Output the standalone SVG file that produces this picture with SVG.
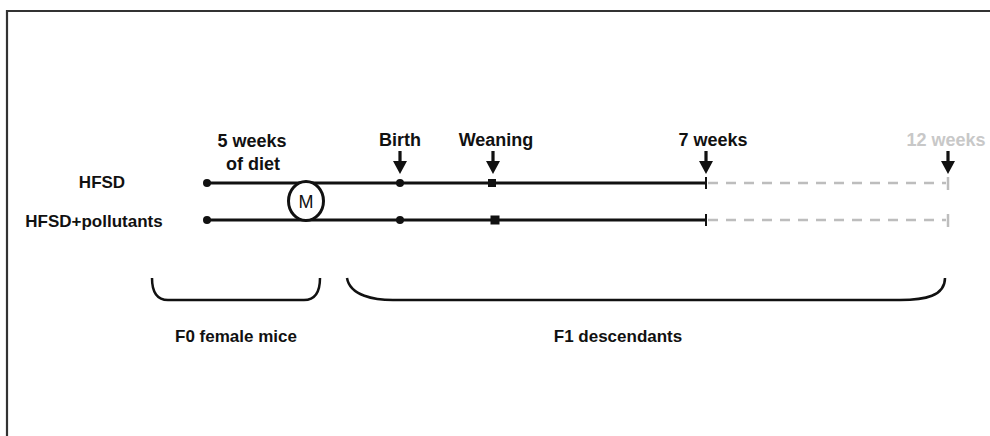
<svg xmlns="http://www.w3.org/2000/svg" width="990" height="436" viewBox="0 0 990 436">
<style>
.lbl{font-family:"Liberation Sans",Arial,sans-serif;font-weight:bold;fill:#111;}
.top{font-size:18px;text-anchor:middle;}
.side{font-size:17px;text-anchor:middle;}
.tl{stroke:#111;stroke-width:3;fill:none;}
.dash{stroke:#bdbdbd;stroke-width:2.5;stroke-dasharray:10 8;fill:none;}
.gtick{stroke:#bdbdbd;stroke-width:2.5;}
.btick{stroke:#111;stroke-width:2;}
.brace{stroke:#111;stroke-width:2.5;fill:none;}
.dot{fill:#111;}
.arr{fill:#111;}
</style>
<defs>
<g id="arrow"><rect x="-1.6" y="0" width="3.2" height="11"/><polygon points="-7,10 7,10 0,23"/></g>
</defs>
<rect width="990" height="436" fill="#fff"/>
<path d="M7,436 V11 H990" fill="none" stroke="#333" stroke-width="2.2"/>

<g id="connectors">
<line class="tl" x1="207" y1="183" x2="706" y2="183"/>
<line class="tl" x1="207" y1="220" x2="706" y2="220"/>
<line class="dash" x1="708" y1="183" x2="946" y2="183"/>
<line class="dash" x1="708" y1="220" x2="946" y2="220"/>
<line class="btick" x1="706" y1="177" x2="706" y2="189"/>
<line class="btick" x1="706" y1="214" x2="706" y2="226"/>
<line class="gtick" x1="948" y1="177" x2="948" y2="190"/>
<line class="gtick" x1="948" y1="214" x2="948" y2="227"/>
</g>

<g id="row-labels">
<text class="lbl side" x="102" y="188">HFSD</text>
<text class="lbl side" x="94" y="227">HFSD+pollutants</text>
</g>

<g id="start-points">
<circle class="dot" cx="207" cy="183" r="4"/>
<circle class="dot" cx="207" cy="220" r="4"/>
</g>

<g id="mating">
<ellipse cx="306" cy="201" rx="17.5" ry="19.5" fill="#fff" stroke="#111" stroke-width="3"/>
<text x="306" y="207.5" font-family="'Liberation Sans',Arial,sans-serif" font-size="18" text-anchor="middle" fill="#111">M</text>
</g>

<g id="diet-label">
<text class="lbl top" x="252" y="147">5 weeks</text>
<text class="lbl top" x="253" y="170">of diet</text>
</g>

<g id="birth">
<text class="lbl top" x="400" y="146">Birth</text>
<use href="#arrow" x="400" y="151" class="arr"/>
<circle class="dot" cx="400" cy="183" r="4"/>
<circle class="dot" cx="400" cy="220" r="4"/>
</g>

<g id="weaning">
<text class="lbl top" x="496" y="146">Weaning</text>
<use href="#arrow" x="493" y="151" class="arr"/>
<rect class="dot" x="488" y="179" width="8" height="8"/>
<rect class="dot" x="490.5" y="215.5" width="9" height="9"/>
</g>

<g id="week7">
<text class="lbl top" x="713" y="146">7 weeks</text>
<use href="#arrow" x="706" y="151" class="arr"/>
</g>

<g id="week12">
<text class="lbl top" x="946" y="146" style="fill:#c8c8c8">12 weeks</text>
<use href="#arrow" x="948" y="151" class="arr"/>
</g>

<g id="f0">
<path class="brace" d="M152,278 Q152,300 168,300 H304 Q320,300 320,278"/>
<text class="lbl side" x="236" y="342">F0 female mice</text>
</g>

<g id="f1">
<path class="brace" d="M347,278 C350,296 375,300 393,300 H900 C925,300 945,296 945,278"/>
<text class="lbl side" x="618" y="342">F1 descendants</text>
</g>
</svg>
